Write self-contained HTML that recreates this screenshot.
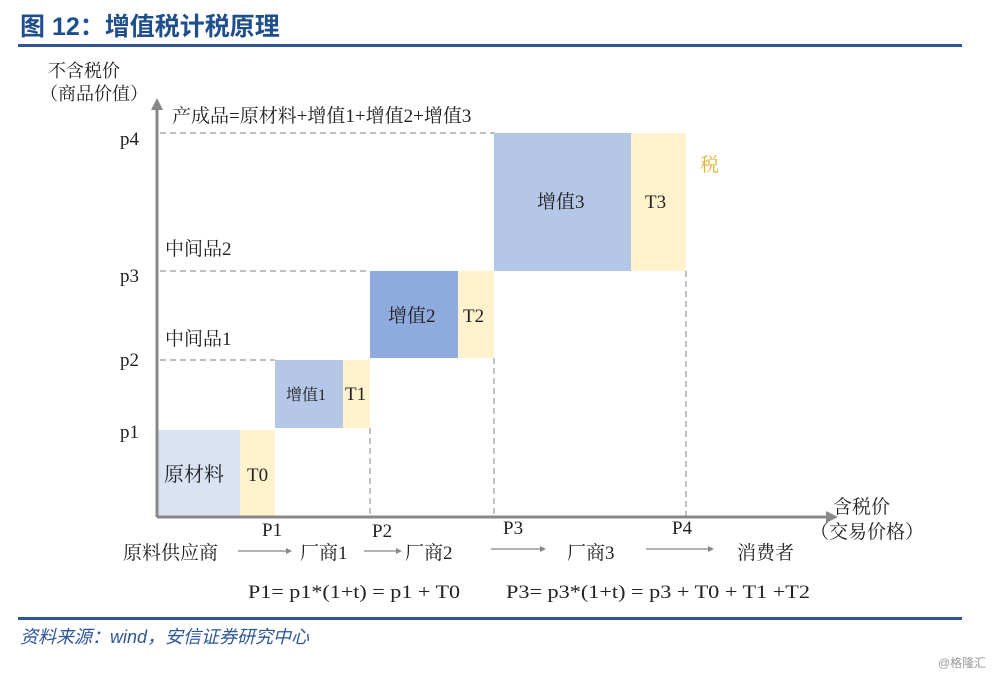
<!DOCTYPE html>
<html><head><meta charset="utf-8"><style>
body{margin:0;background:#fff;}
svg text{font-family:"Liberation Serif","Noto Serif CJK SC",serif;fill:#222;}
</style></head><body>
<svg width="1000" height="676" xmlns="http://www.w3.org/2000/svg">
<text x="20" y="35" style="font-family:'Liberation Sans','Noto Sans CJK SC',sans-serif;font-weight:bold;font-size:25px;fill:#1f4e8c">图 12：增值税计税原理</text>
<rect x="18" y="44" width="944" height="3" fill="#2e5597"/>
<text x="48" y="77" font-size="18">不含税价</text>
<text x="40" y="100" font-size="18">（商品价值）</text>
<g fill="none" stroke="#999" stroke-dasharray="6,4" stroke-width="1.2">
<path d="M160 133H495M160 271H370M160 360H275M370 428V517M494 358V517M686 271V517"/>
</g>
<rect x="157" y="430" width="83" height="87" fill="#dae3f3"/>
<rect x="240" y="430" width="35" height="87" fill="#fff2cc"/>
<rect x="275" y="360" width="68" height="68" fill="#b4c7e7"/>
<rect x="343" y="360" width="27" height="68" fill="#fff2cc"/>
<rect x="370" y="271" width="88" height="87" fill="#8faadc"/>
<rect x="458" y="271" width="36" height="87" fill="#fff2cc"/>
<rect x="494" y="133" width="137" height="138" fill="#b4c7e7"/>
<rect x="631" y="133" width="55" height="138" fill="#fff2cc"/>
<path d="M157 517V108M157 517H828" stroke="#888" stroke-width="3" fill="none"/>
<path d="M151 110L157 98L163 110Z M826 511L838 517L826 523Z" fill="#888"/>
<g font-size="19">
<text x="120" y="145">p4</text><text x="120" y="282">p3</text><text x="120" y="366">p2</text><text x="120" y="438">p1</text>
<text x="172" y="122">产成品=原材料+增值1+增值2+增值3</text>
<text x="165" y="255">中间品2</text><text x="165" y="345">中间品1</text>
<text x="164" y="481" font-size="20">原材料</text><text x="247" y="481">T0</text>
<text x="286" y="400" font-size="16">增值1</text><text x="345" y="400">T1</text>
<text x="388" y="322">增值2</text><text x="463" y="322">T2</text>
<text x="537" y="208">增值3</text><text x="645" y="208">T3</text>
<text x="700" y="171" style="fill:#e0b030">税</text>
<text x="262" y="536">P1</text><text x="372" y="537">P2</text><text x="503" y="534">P3</text><text x="672" y="534">P4</text>
<text x="833" y="513">含税价</text><text x="810" y="538">（交易价格）</text>
<text x="123" y="559">原料供应商</text><text x="300" y="559">厂商1</text><text x="405" y="559">厂商2</text>
<text x="567" y="559">厂商3</text><text x="737" y="559">消费者</text>
<text x="248" y="598" textLength="212" lengthAdjust="spacingAndGlyphs">P1= p1*(1+t) = p1 + T0</text>
<text x="506" y="598" textLength="304" lengthAdjust="spacingAndGlyphs">P3= p3*(1+t) = p3 + T0 + T1 +T2</text>
</g>
<g stroke="#888" stroke-width="1.2"><path d="M238 551H286M364 551H396M491 549H540M646 549H708"/></g>
<g fill="#888"><path d="M286 548L292 551L286 554ZM396 548L402 551L396 554ZM540 546L546 549L540 552ZM708 546L714 549L708 552Z"/></g>
<rect x="18" y="617" width="944" height="3" fill="#2e5597"/>
<text x="20" y="643" style="font-family:'Liberation Sans','Noto Sans CJK SC',sans-serif;font-style:italic;font-size:18px;fill:#2e5597">资料来源：wind，安信证券研究中心</text>
<text x="938" y="667" style="font-family:'Liberation Sans','Noto Sans CJK SC',sans-serif;font-size:12px;fill:#999">@格隆汇</text>
</svg>
</body></html>
